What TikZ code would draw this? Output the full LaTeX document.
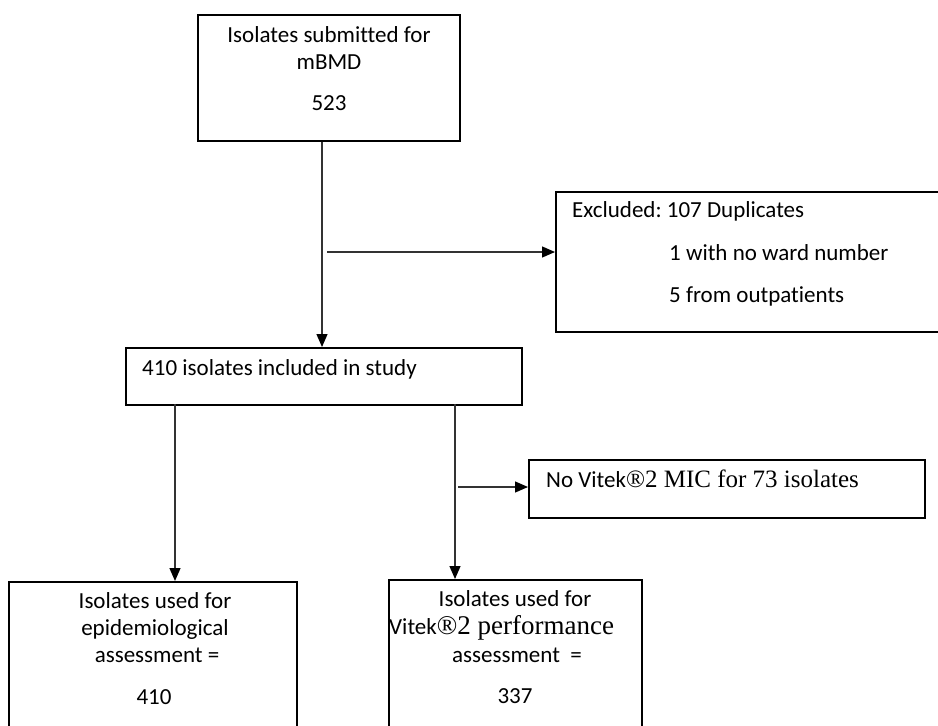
\documentclass[tikz,border=0pt]{standalone}
\usepackage{fontspec}
\setmainfont{Carlito}[Ligatures=NoCommon]
\newfontfamily\tnr{Liberation Serif}
\usetikzlibrary{arrows.meta}
\frenchspacing
\begin{document}
\begin{tikzpicture}[x=1pt,y=-1pt,
  box/.style={draw=black,line width=2pt,anchor=north west,inner sep=0pt},
  txt/.style={font=\fontsize{23}{28}\selectfont,inner sep=0pt},
  arr/.style={draw=black!80,line width=1.3pt,-{Triangle[length=13pt,width=11pt,fill=black,color=black]}}]
\useasboundingbox (0,0) rectangle (938,726);
\fill[white] (0,0) rectangle (938,726);
% boxes
\node[box,minimum width=262pt,minimum height=126pt] (top) at (197,14) {};
\node[box,minimum width=395pt,minimum height=140pt] (excl) at (555,191) {};
\node[box,minimum width=396pt,minimum height=57pt] (mid) at (125,347) {};
\node[box,minimum width=396pt,minimum height=58pt] (vit) at (528,459) {};
\node[box,minimum width=288pt,minimum height=160pt] (bl) at (8,581) {};
\node[box,minimum width=253pt,minimum height=160pt] (br) at (388,579) {};
% texts
\node[txt,anchor=base] (t1) at (329,42) {Isolates submitted for};
\node[txt,anchor=base] (t2) at (329,69) {mBMD};
\node[txt,anchor=base] (t3) at (329,110) {523};
\node[txt,anchor=base west] (e1) at (572,217) {Excluded: 107 Duplicates};
\node[txt,anchor=base west] (e2) at (669,260) {1 with no ward number};
\node[txt,anchor=base west] (e3) at (669,302) {5 from outpatients};
\node[txt,anchor=base west] (m1) at (142,375) {410 isolates included in study};
\node[txt,anchor=base west] (v1) at (546,487) {No Vitek{\fontsize{25}{28}\selectfont\tnr ®2 MIC for 73 isolates}};
\node[txt,anchor=base] (l1) at (155,608) {Isolates used for};
\node[txt,anchor=base] (l2) at (155,635) {epidemiological};
\node[txt,anchor=base] (l3) at (157,662) {assessment =};
\node[txt,anchor=base] (l4) at (154,704) {410};
\node[txt,anchor=base] (r1) at (515,606) {Isolates used for};
\node[txt,anchor=base west] (r2) at (389,634) {Vitek{\fontsize{27}{28}\selectfont\tnr ®2 performance}};
\node[txt,anchor=base] (r3) at (517,662) {assessment\ \ =};
\node[txt,anchor=base] (r4) at (515,703) {337};
% connectors
\coordinate (j1) at (327,252);
\coordinate (j2) at (458,487);
\coordinate (a1) at (175,404);
\coordinate (a2) at (455,404);
\draw[arr] ([xshift=-7pt]top.south) -- ([xshift=-7pt]top.south |- mid.north);
\draw[arr] (j1) -- (j1 -| excl.west);
\draw[arr] (a1) -- (a1 |- bl.north);
\draw[arr] (a2) -- (a2 |- br.north);
\draw[arr] (j2) -- (j2 -| vit.west);
\end{tikzpicture}
\end{document}
